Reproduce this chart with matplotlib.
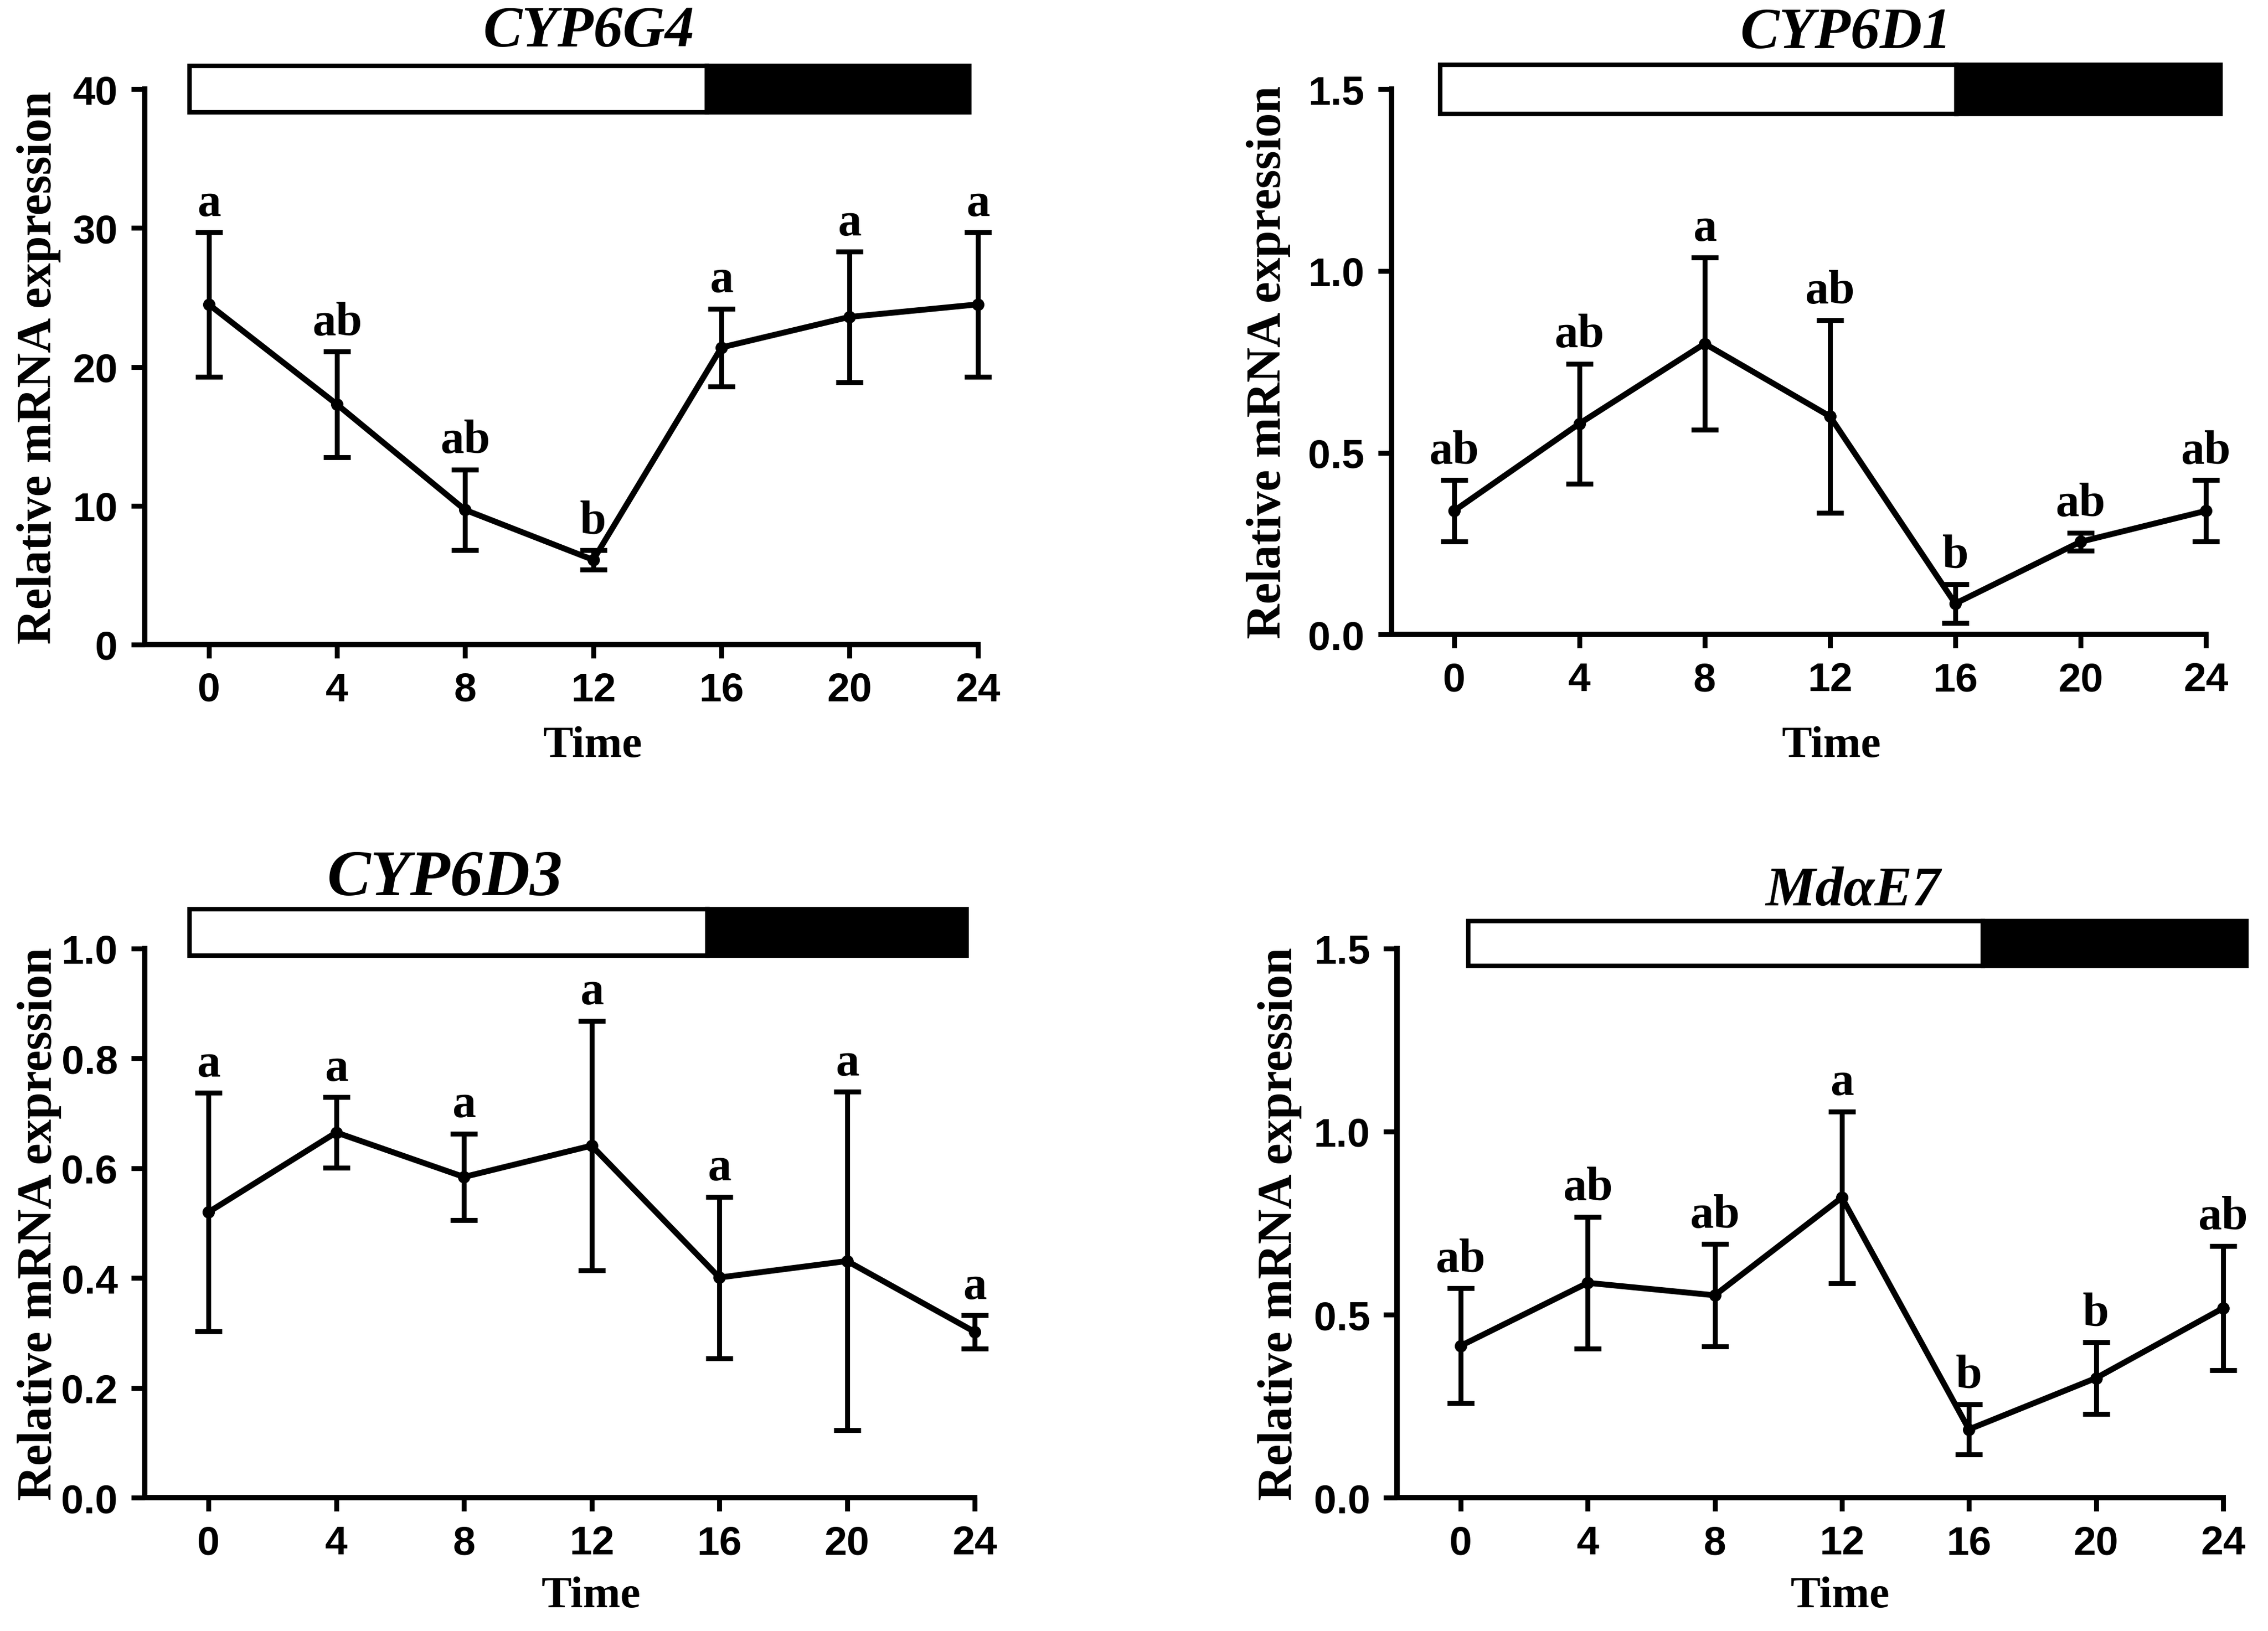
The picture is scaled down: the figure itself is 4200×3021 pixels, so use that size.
import matplotlib
matplotlib.use("Agg")
import matplotlib.pyplot as plt
from matplotlib.patches import Rectangle

#%% data
times = [0, 4, 8, 12, 16, 20, 24]

g4_mean = [24.5, 17.3, 9.7, 6.1, 21.4, 23.6, 24.5]
g4_err = [5.2, 3.8, 2.9, 0.7, 2.8, 4.7, 5.2]
g4_letters = ['a', 'ab', 'ab', 'b', 'a', 'a', 'a']

d1_mean = [0.34, 0.58, 0.80, 0.60, 0.085, 0.255, 0.34]
d1_err = [0.085, 0.165, 0.237, 0.265, 0.053, 0.025, 0.085]
d1_letters = ['ab', 'ab', 'a', 'ab', 'b', 'ab', 'ab']

d3_mean = [0.52, 0.665, 0.584, 0.641, 0.401, 0.431, 0.302]
d3_err = [0.217, 0.064, 0.079, 0.227, 0.147, 0.308, 0.03]
d3_letters = ['a', 'a', 'a', 'a', 'a', 'a', 'a']

e7_mean = [0.415, 0.587, 0.553, 0.82, 0.187, 0.327, 0.518]
e7_err = [0.157, 0.18, 0.14, 0.235, 0.068, 0.098, 0.17]
e7_letters = ['ab', 'ab', 'ab', 'a', 'b', 'b', 'ab']

titles = ['CYP6G4', 'CYP6D1', 'CYP6D3', 'Md\u03b1E7']
yticks = [[0, 10, 20, 30, 40], [0.0, 0.5, 1.0, 1.5],
          [0.0, 0.2, 0.4, 0.6, 0.8, 1.0], [0.0, 0.5, 1.0, 1.5]]
ytick_fmt = ['{:.0f}', '{:.1f}', '{:.1f}', '{:.1f}']

#%% layout
serif = ['Liberation Serif', 'DejaVu Serif']
narrow = ['Liberation Sans Narrow', 'Liberation Sans', 'DejaVu Sans']

fig = plt.figure(figsize=(14, 10.0733), dpi=300)

# [left, bottom, width, height] in figure fraction
positions = [
    [0.0638, 0.6046, 0.3673, 0.3404],
    [0.6135, 0.6108, 0.3591, 0.3342],
    [0.0638, 0.0816, 0.3660, 0.3368],
    [0.6160, 0.0816, 0.3642, 0.3368],
]
# light/dark bar in axes fraction: x0, xsplit, x1, y0, y1
bars = [
    (0.054, 0.675, 0.990, 0.958, 1.042),
    (0.060, 0.694, 1.018, 0.955, 1.045),
    (0.054, 0.678, 0.990, 0.987, 1.071),
    (0.086, 0.709, 1.028, 0.968, 1.050),
]
title_xy = [(0.533, 1.056), (0.558, 1.054), (0.362, 1.072), (0.552, 1.058)]
title_size = [26, 26, 29, 25]
ylab_x = [-0.127, -0.151, -0.127, -0.142]
xlab_xy = [(0.538, -0.182), (0.540, -0.204), (0.538, -0.179), (0.536, -0.179)]

means = [g4_mean, d1_mean, d3_mean, e7_mean]
errs = [g4_err, d1_err, d3_err, e7_err]
letters = [g4_letters, d1_letters, d3_letters, e7_letters]

for i in range(4):
    ax = fig.add_axes(positions[i])
    ax.errorbar(times, means[i], yerr=errs[i], color='black', lw=2.6,
                marker='o', markersize=4.5, elinewidth=2.2, capsize=6,
                capthick=2.2, clip_on=False, zorder=3)
    for t, m, e, lab in zip(times, means[i], errs[i], letters[i]):
        ax.annotate(lab, (t, m + e), xytext=(0, 3), textcoords='offset points',
                    ha='center', va='bottom', fontsize=21, fontweight='bold',
                    family=serif)

    ax.set_xlim(-2, 24)
    ax.set_ylim(yticks[i][0], yticks[i][-1])
    ax.set_xticks(times)
    ax.set_yticks(yticks[i])
    ax.set_yticklabels([ytick_fmt[i].format(v) for v in yticks[i]])
    for lab in ax.get_xticklabels() + ax.get_yticklabels():
        lab.set_family(narrow)
        lab.set_fontweight('bold')
        lab.set_fontsize(18)
    ax.tick_params(width=2.2, length=6, direction='out', pad=6)

    ax.spines['top'].set_visible(False)
    ax.spines['right'].set_visible(False)
    ax.spines['left'].set_linewidth(2.4)
    ax.spines['bottom'].set_linewidth(2.4)

    x0, xs, x1, y0, y1 = bars[i]
    ax.add_patch(Rectangle((x0, y0), xs - x0, y1 - y0, transform=ax.transAxes,
                           facecolor='white', edgecolor='black', lw=2,
                           clip_on=False))
    ax.add_patch(Rectangle((xs, y0), x1 - xs, y1 - y0, transform=ax.transAxes,
                           facecolor='black', edgecolor='black', lw=2,
                           clip_on=False))

    ax.text(title_xy[i][0], title_xy[i][1], titles[i], transform=ax.transAxes,
            ha='center', va='bottom', fontsize=title_size[i], fontweight='bold',
            style='italic', family=serif)
    ax.text(ylab_x[i], 0.5, 'Relative mRNA expression', transform=ax.transAxes,
            rotation=90, ha='center', va='center', fontsize=21.5,
            fontweight='bold', family=serif)
    ax.text(xlab_xy[i][0], xlab_xy[i][1], 'Time', transform=ax.transAxes,
            ha='center', va='center', fontsize=20, fontweight='bold',
            family=serif)

fig.savefig('out.png', dpi=300)
